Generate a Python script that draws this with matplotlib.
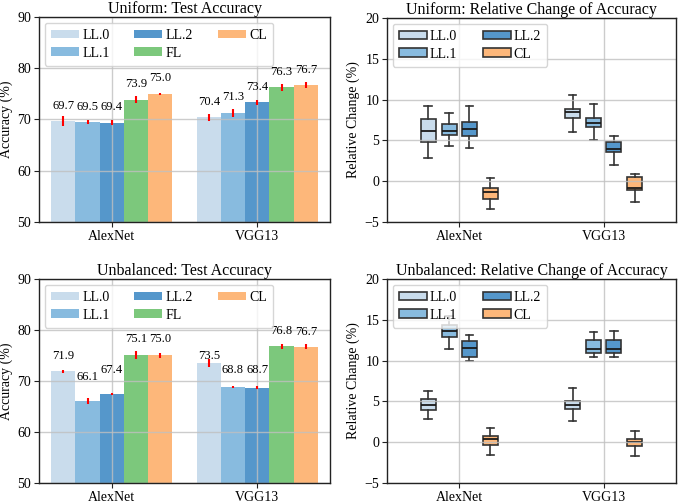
import matplotlib
matplotlib.use("Agg")
import matplotlib.pyplot as plt
import numpy as np
from matplotlib.patches import Patch

plt.rcParams['font.family'] = ['Liberation Serif', 'DejaVu Serif']
plt.rcParams['axes.unicode_minus'] = True

# ---------------- data ----------------
models = ["AlexNet", "VGG13"]
bar_methods = ["LL.0", "LL.1", "LL.2", "FL", "CL"]
box_methods = ["LL.0", "LL.1", "LL.2", "CL"]

# Uniform: test accuracy (per method: [AlexNet, VGG13])
uni_acc = {
    "LL.0": [69.7, 70.4],
    "LL.1": [69.5, 71.3],
    "LL.2": [69.4, 73.4],
    "FL":   [73.9, 76.3],
    "CL":   [75.0, 76.7],
}
uni_err = {
    "LL.0": [1.0, 0.75],
    "LL.1": [0.33, 0.78],
    "LL.2": [0.55, 0.5],
    "FL":   [0.72, 0.65],
    "CL":   [0.26, 0.52],
}
# Unbalanced: test accuracy
unb_acc = {
    "LL.0": [71.9, 73.5],
    "LL.1": [66.1, 68.8],
    "LL.2": [67.4, 68.7],
    "FL":   [75.1, 76.8],
    "CL":   [75.0, 76.7],
}
unb_err = {
    "LL.0": [0.33, 0.82],
    "LL.1": [0.55, 0.23],
    "LL.2": [0.23, 0.33],
    "FL":   [0.72, 0.52],
    "CL":   [0.4, 0.52],
}

# Relative change box statistics: (whislo, q1, med, q3, whishi), per model
uni_box = {
    "LL.0": [(2.8, 4.8, 6.2, 7.6, 9.2), (6.0, 7.7, 8.5, 8.9, 10.6)],
    "LL.1": [(4.3, 5.7, 6.2, 7.0, 8.4), (5.0, 6.6, 7.1, 7.8, 9.4)],
    "LL.2": [(4.1, 5.5, 6.4, 7.3, 9.2), (2.0, 3.6, 4.0, 4.8, 5.6)],
    "CL":   [(-3.4, -2.2, -1.3, -0.8, 0.4), (-2.5, -1.1, -0.8, 0.5, 0.9)],
}
unb_box = {
    "LL.0": [(2.8, 3.9, 4.5, 5.3, 6.3), (2.6, 4.1, 4.6, 5.1, 6.6)],
    "LL.1": [(11.4, 12.9, 13.6, 14.4, 15.5), (10.4, 10.9, 11.4, 12.5, 13.5)],
    "LL.2": [(9.9, 10.4, 11.6, 12.4, 13.1), (10.4, 10.9, 11.4, 12.5, 13.6)],
    "CL":   [(-1.6, -0.4, 0.4, 0.8, 1.8), (-1.7, -0.5, 0.0, 0.4, 1.4)],
}

# ---------------- style ----------------
colors = {
    "LL.0": "#c9dcec",
    "LL.1": "#88bbdf",
    "LL.2": "#5597cb",
    "FL":   "#7cc87c",
    "CL":   "#fdb77a",
}
# vertical lift of value labels above bar tops (layout only)
uni_label_lift = {m: [3.0, 3.0] for m in bar_methods}
unb_label_lift = {
    "LL.0": [3.0, 1.4],
    "LL.1": [4.7, 3.3],
    "LL.2": [4.8, 3.4],
    "FL":   [3.1, 3.0],
    "CL":   [3.2, 3.0],
}

W, H = 680, 501
fig = plt.figure(figsize=(W / 100, H / 100), dpi=100)

def px_axes(l, t, r, b):
    return fig.add_axes([l / W, 1 - b / H, (r - l) / W, (b - t) / H])

ax_ub = px_axes(39, 17, 330, 222)
ax_ur = px_axes(387, 18, 676, 222)
ax_bb = px_axes(39, 279, 330, 483)
ax_br = px_axes(387, 279, 676, 483)

grid_kw = dict(color="#c0c0c0", linewidth=1.0, alpha=0.8)

def style_axes(ax):
    ax.grid(True, **grid_kw)
    ax.set_axisbelow(False)
    for s in ax.spines.values():
        s.set_color("#222222")
        s.set_linewidth(1.0)
        s.set_zorder(5)
    ax.tick_params(labelsize=10, length=3.5, pad=2, color="#222222")

def add_legend(ax, handles, ncol, colsp, htp):
    leg = ax.legend(handles=handles, ncol=ncol, loc="upper left", fontsize=10,
                    handlelength=2.0, handleheight=0.6, columnspacing=colsp,
                    borderaxespad=0.4, handletextpad=htp, labelspacing=0.35,
                    borderpad=0.45)
    leg.set_zorder(6)

def bar_panel(ax, acc, err, lift, title):
    x = np.arange(len(models))
    w = 1 / 6
    handles = []
    for i, m in enumerate(bar_methods):
        xs = x + (i - 2) * w
        h = ax.bar(xs, acc[m], width=w, color=colors[m], label=m, zorder=1)
        handles.append(h)
        ax.errorbar(xs, acc[m], yerr=err[m], fmt="none", ecolor="red",
                    elinewidth=1.5, capsize=0, zorder=3)
        for xx, v, l in zip(xs, acc[m], lift[m]):
            ax.text(xx, v + l, f"{v:.1f}", ha="center", va="center",
                    fontsize=9, zorder=4)
    ax.set_xlim(-0.5, 1.5)
    ax.set_ylim(50, 90)
    ax.set_yticks([50, 60, 70, 80, 90])
    ax.set_xticks(x)
    ax.set_xticklabels(models)
    ax.set_ylabel("Accuracy (%)", fontsize=10, labelpad=3)
    ax.set_title(title, fontsize=11.5, pad=3)
    style_axes(ax)
    add_legend(ax, handles, 3, 1.8, 0.25)

def box_panel(ax, box, title):
    x = np.arange(len(models))
    offs = [-0.215, -0.07, 0.07, 0.215]
    for i, m in enumerate(box_methods):
        stats = []
        for j in range(len(models)):
            lo, q1, med, q3, hi = box[m][j]
            stats.append(dict(whislo=lo, q1=q1, med=med, q3=q3, whishi=hi, fliers=[]))
        ax.bxp(stats, positions=x + offs[i], widths=0.105, patch_artist=True,
               showfliers=False, manage_ticks=False,
               boxprops=dict(facecolor=colors[m], edgecolor="#333333", linewidth=1.2),
               medianprops=dict(color="#1a1a1a", linewidth=1.3),
               whiskerprops=dict(color="#333333", linewidth=1.2),
               capprops=dict(color="#333333", linewidth=1.2))
    ax.set_xlim(-0.5, 1.5)
    ax.set_ylim(-5, 20)
    ax.set_yticks([-5, 0, 5, 10, 15, 20])
    ax.set_xticks(x)
    ax.set_xticklabels(models)
    ax.set_ylabel("Relative Change (%)", fontsize=10, labelpad=3)
    ax.set_title(title, fontsize=11.5, pad=3)
    style_axes(ax)
    handles = [Patch(facecolor=colors[m], edgecolor="#333333", linewidth=1.2, label=m)
               for m in box_methods]
    add_legend(ax, handles, 2, 1.9, 0.2)

bar_panel(ax_ub, uni_acc, uni_err, uni_label_lift, "Uniform: Test Accuracy")
box_panel(ax_ur, uni_box, "Uniform: Relative Change of Accuracy")
bar_panel(ax_bb, unb_acc, unb_err, unb_label_lift, "Unbalanced: Test Accuracy")
box_panel(ax_br, unb_box, "Unbalanced: Relative Change of Accuracy")

fig.savefig("out.png", dpi=100)
